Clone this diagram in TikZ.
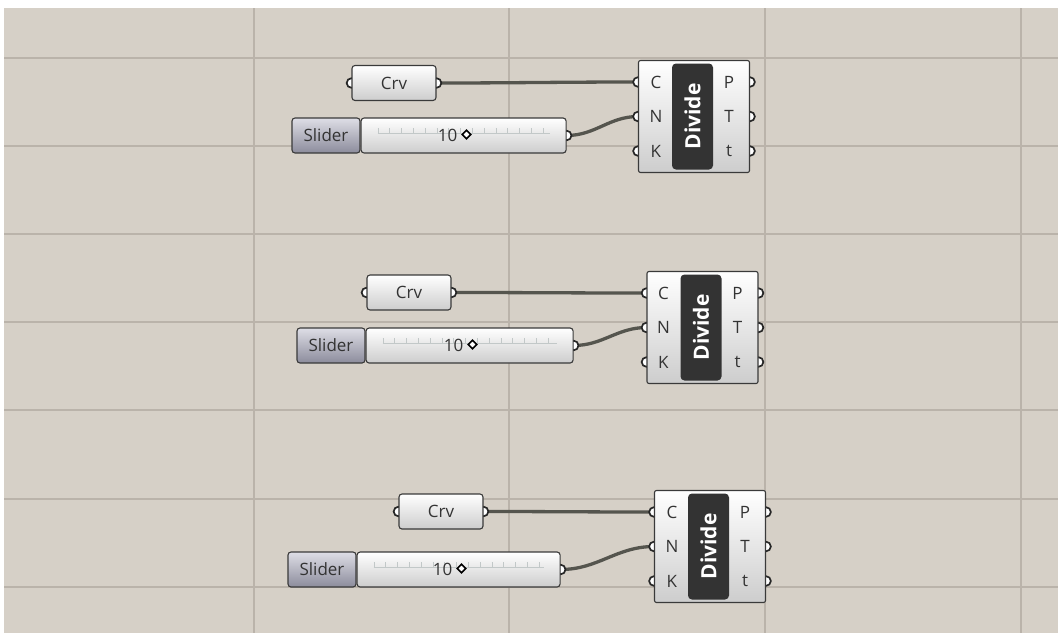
\documentclass[tikz,border=0pt]{standalone}
\usepackage{fontspec}
\setmainfont{Open Sans}
\usetikzlibrary{positioning,backgrounds}

\definecolor{canvasbg}{HTML}{D6D0C7}
\definecolor{gridgray}{HTML}{BAB3AA}
\definecolor{edgegray}{HTML}{3A3A3A}
\definecolor{wiregray}{HTML}{55554E}
\definecolor{textgray}{HTML}{333333}
\definecolor{tabtop}{HTML}{DEDEE6}
\definecolor{tabbot}{HTML}{8C8C9C}
\definecolor{bodybot}{HTML}{CDCDCD}
\definecolor{tickgray}{HTML}{C2C8C8}

\tikzset{
  gridline/.style={draw=gridgray, line width=1.2pt},
  ghfont/.style={font=\fontsize{17}{19}\selectfont, text=textgray},
  crvbox/.style={ghfont, draw=edgegray, line width=1.1pt, rounded corners=3pt,
    top color=white, bottom color=bodybot, minimum width=84pt, minimum height=35pt, inner sep=0pt},
  slidertab/.style={ghfont, draw=edgegray, line width=1.1pt, rounded corners=3pt,
    top color=tabtop, bottom color=tabbot, minimum width=68pt, minimum height=35pt, inner sep=0pt},
  slidertrack/.style={draw=edgegray, line width=1.1pt, rounded corners=3pt,
    top color=white, bottom color=bodybot, minimum height=35pt, inner sep=0pt},
  slidervalue/.style={ghfont, inner sep=0pt},
  knob/.style={draw=black, fill=white, line width=1.5pt, rotate=45, minimum size=6pt, inner sep=0pt},
  ticktrack/.style={draw=tickgray, line width=5pt, dash pattern=on 0.8pt off 11pt},
  trackline/.style={draw=tickgray, line width=0.8pt},
  compbox/.style={draw=edgegray, line width=1.1pt, rounded corners=2pt,
    top color=white, bottom color=bodybot, minimum width=111pt, minimum height=112pt, inner sep=0pt},
  complabel/.style={font=\bfseries\fontsize{21}{22}\selectfont, text=white, fill=black!80,
    rounded corners=4pt, rotate=90, minimum width=106pt, minimum height=41pt, inner sep=0pt},
  pinlabel/.style={ghfont, inner sep=0pt},
  grip/.style={draw=black!85, fill=white, line width=1.7pt},
  wire/.style={draw=wiregray, line width=3.3pt},
}

\begin{document}
\begin{tikzpicture}[x=1pt, y=-1pt]
    \useasboundingbox (0,0) rectangle (1058,633);

    % Sfondo e griglia
    \begin{scope}[on background layer]
    \fill[white] (0,0) rectangle (1058,633);
    \fill[canvasbg] (4,8) rectangle (1058,633);
    \draw[gridline] (254,8) -- (254,633);
    \draw[gridline] (509,8) -- (509,633);
    \draw[gridline] (765,8) -- (765,633);
    \draw[gridline] (1021,8) -- (1021,633);
    \draw[gridline] (4,58) -- (1058,58);
    \draw[gridline] (4,146) -- (1058,146);
    \draw[gridline] (4,234) -- (1058,234);
    \draw[gridline] (4,322) -- (1058,322);
    \draw[gridline] (4,410) -- (1058,410);
    \draw[gridline] (4,499) -- (1058,499);
    \draw[gridline] (4,587) -- (1058,587);
    \end{scope}

    % Gruppo 1
    \node[crvbox] (crv1) at (394,83) {Crv};
    \node[slidertab] (tab1) at (326,135.5) {Slider};
    \node[slidertrack, minimum width=205pt, right=0pt of tab1] (track1) {};
    \draw[ticktrack] ([xshift=17pt,yshift=5pt]track1.west) -- ([xshift=-17pt,yshift=5pt]track1.east);
    \draw[trackline] ([xshift=17pt,yshift=2.5pt]track1.west) -- ([xshift=-17pt,yshift=2.5pt]track1.east);
    \node[slidervalue] (val1) at ([xshift=-16pt]track1.center) {10};
    \node[knob] (knob1) at ([xshift=9pt,yshift=1pt]val1.east) {};
    \node[compbox] (div1) at (694,116.5) {};
    \node[complabel] (lab1) at ([xshift=-1.5pt]div1.center) {Divide};
    \coordinate (div1C) at ([yshift=34.5pt]div1.west);
    \coordinate (div1N) at (div1.west);
    \coordinate (div1K) at ([yshift=-34.5pt]div1.west);
    \coordinate (div1P) at ([yshift=34.5pt]div1.east);
    \coordinate (div1T) at (div1.east);
    \coordinate (div1t) at ([yshift=-34.5pt]div1.east);
    \node[pinlabel] (pc1) at ([xshift=18pt]div1C) {C};
    \node[pinlabel] (pn1) at ([xshift=18pt]div1N) {N};
    \node[pinlabel] (pk1) at ([xshift=18pt]div1K) {K};
    \node[pinlabel] (pp1) at ([xshift=-21pt]div1P) {P};
    \node[pinlabel] (pt1) at ([xshift=-21pt]div1T) {T};
    \node[pinlabel] (ps1) at ([xshift=-21pt]div1t) {t};

    % Gruppo 2
    \node[crvbox] (crv2) at (409,292.5) {Crv};
    \node[slidertab] (tab2) at (331,345.5) {Slider};
    \node[slidertrack, minimum width=207pt, right=0pt of tab2] (track2) {};
    \draw[ticktrack] ([xshift=17pt,yshift=5pt]track2.west) -- ([xshift=-17pt,yshift=5pt]track2.east);
    \draw[trackline] ([xshift=17pt,yshift=2.5pt]track2.west) -- ([xshift=-17pt,yshift=2.5pt]track2.east);
    \node[slidervalue] (val2) at ([xshift=-16pt]track2.center) {10};
    \node[knob] (knob2) at ([xshift=9pt,yshift=1pt]val2.east) {};
    \node[compbox] (div2) at (702.5,327.5) {};
    \node[complabel] (lab2) at ([xshift=-1.5pt]div2.center) {Divide};
    \coordinate (div2C) at ([yshift=34.5pt]div2.west);
    \coordinate (div2N) at (div2.west);
    \coordinate (div2K) at ([yshift=-34.5pt]div2.west);
    \coordinate (div2P) at ([yshift=34.5pt]div2.east);
    \coordinate (div2T) at (div2.east);
    \coordinate (div2t) at ([yshift=-34.5pt]div2.east);
    \node[pinlabel] (pc2) at ([xshift=17pt]div2C) {C};
    \node[pinlabel] (pn2) at ([xshift=17pt]div2N) {N};
    \node[pinlabel] (pk2) at ([xshift=17pt]div2K) {K};
    \node[pinlabel] (pp2) at ([xshift=-21pt]div2P) {P};
    \node[pinlabel] (pt2) at ([xshift=-21pt]div2T) {T};
    \node[pinlabel] (ps2) at ([xshift=-21pt]div2t) {t};

    % Gruppo 3
    \node[crvbox] (crv3) at (441,511.5) {Crv};
    \node[slidertab] (tab3) at (322,569.5) {Slider};
    \node[slidertrack, minimum width=203pt, right=0pt of tab3] (track3) {};
    \draw[ticktrack] ([xshift=17pt,yshift=5pt]track3.west) -- ([xshift=-17pt,yshift=5pt]track3.east);
    \draw[trackline] ([xshift=17pt,yshift=2.5pt]track3.west) -- ([xshift=-17pt,yshift=2.5pt]track3.east);
    \node[slidervalue] (val3) at ([xshift=-16pt]track3.center) {10};
    \node[knob] (knob3) at ([xshift=9pt,yshift=1pt]val3.east) {};
    \node[compbox] (div3) at (710,546.5) {};
    \node[complabel] (lab3) at ([xshift=-1.5pt]div3.center) {Divide};
    \coordinate (div3C) at ([yshift=34.5pt]div3.west);
    \coordinate (div3N) at (div3.west);
    \coordinate (div3K) at ([yshift=-34.5pt]div3.west);
    \coordinate (div3P) at ([yshift=34.5pt]div3.east);
    \coordinate (div3T) at (div3.east);
    \coordinate (div3t) at ([yshift=-34.5pt]div3.east);
    \node[pinlabel] (pc3) at ([xshift=18pt]div3C) {C};
    \node[pinlabel] (pn3) at ([xshift=18pt]div3N) {N};
    \node[pinlabel] (pk3) at ([xshift=18pt]div3K) {K};
    \node[pinlabel] (pp3) at ([xshift=-21pt]div3P) {P};
    \node[pinlabel] (pt3) at ([xshift=-21pt]div3T) {T};
    \node[pinlabel] (ps3) at ([xshift=-21pt]div3t) {t};

    % Fili e connettori (sotto i componenti)
    \begin{scope}[on background layer]
    \draw[wire] (crv1.east) to[out=0, in=180] (div1C);
    \draw[wire] (track1.east) to[out=0, in=180] (div1N);
    \draw[wire] (crv2.east) to[out=0, in=180] (div2C);
    \draw[wire] (track2.east) to[out=0, in=180] (div2N);
    \draw[wire] (crv3.east) to[out=0, in=180] (div3C);
    \draw[wire] (track3.east) to[out=0, in=180] (div3N);

    \draw[grip] (crv1.west) circle (4.8pt) (crv1.east) circle (4.8pt) (track1.east) circle (4.8pt);
    \draw[grip] (div1C) circle (4.8pt) (div1N) circle (4.8pt) (div1K) circle (4.8pt);
    \draw[grip] (div1P) circle (4.8pt) (div1T) circle (4.8pt) (div1t) circle (4.8pt);
    \draw[grip] (crv2.west) circle (4.8pt) (crv2.east) circle (4.8pt) (track2.east) circle (4.8pt);
    \draw[grip] (div2C) circle (4.8pt) (div2N) circle (4.8pt) (div2K) circle (4.8pt);
    \draw[grip] (div2P) circle (4.8pt) (div2T) circle (4.8pt) (div2t) circle (4.8pt);
    \draw[grip] (crv3.west) circle (4.8pt) (crv3.east) circle (4.8pt) (track3.east) circle (4.8pt);
    \draw[grip] (div3C) circle (4.8pt) (div3N) circle (4.8pt) (div3K) circle (4.8pt);
    \draw[grip] (div3P) circle (4.8pt) (div3T) circle (4.8pt) (div3t) circle (4.8pt);
    \end{scope}
\end{tikzpicture}
\end{document}
